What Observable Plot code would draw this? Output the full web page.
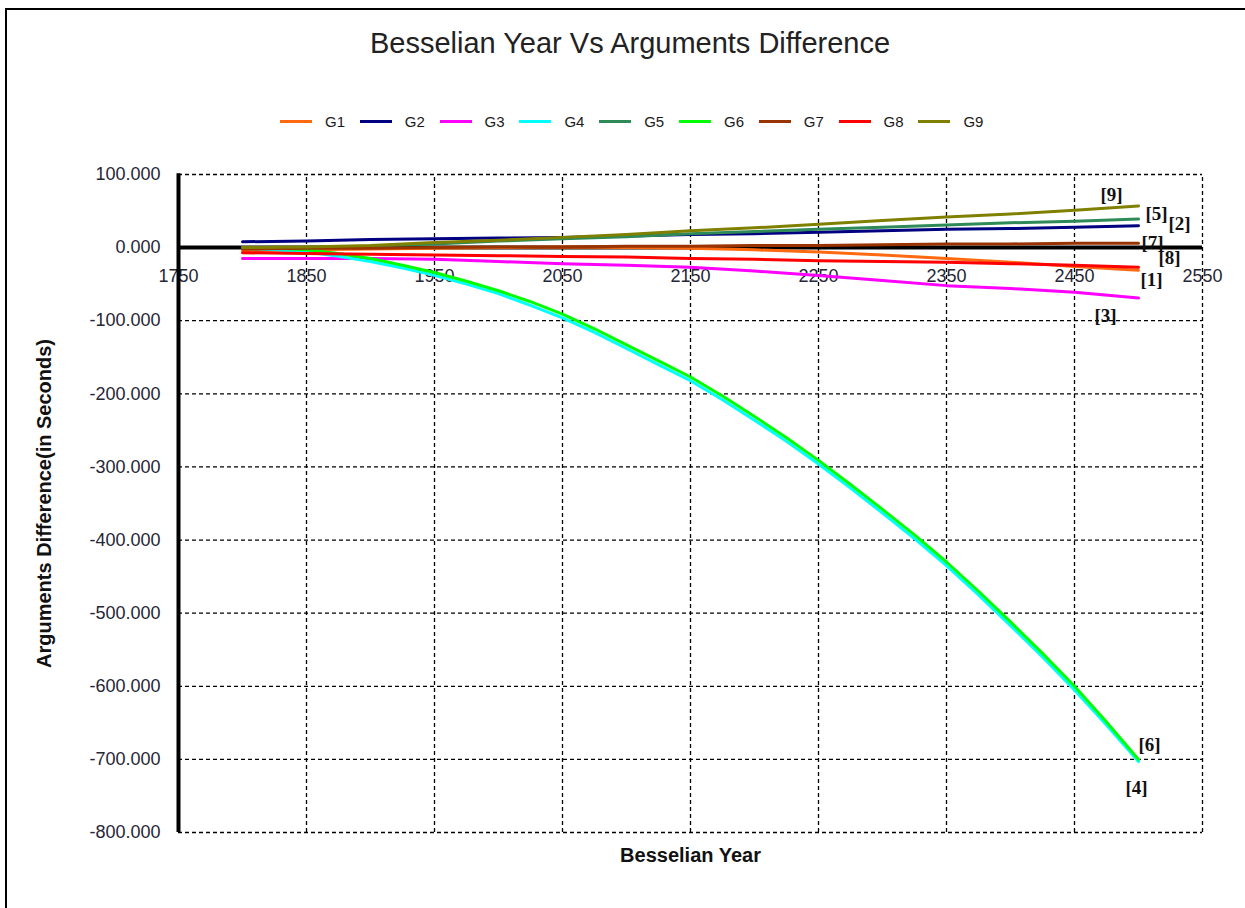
<!DOCTYPE html>
<html>
<head>
<meta charset="utf-8">
<script src="https://cdn.jsdelivr.net/npm/d3@7"></script>
<script src="https://cdn.jsdelivr.net/npm/@observablehq/plot@0.6"></script>
<style>
  html, body { margin: 0; padding: 0; background: #fff; }
  #page { position: relative; width: 1245px; height: 908px; overflow: hidden; font-family: "Liberation Sans", Arial, sans-serif; }
  #frame { position: absolute; left: 5px; top: 8px; width: 1260px; height: 920px; border-left: 2px solid #000; border-top: 2px solid #000; box-sizing: border-box; }
  #title { position: absolute; left: 130px; width: 1000px; top: 26px; text-align: center; font-size: 29px; color: #222; line-height: 34px; }
  #legend { position: absolute; top: 111px; left: 0; height: 20px; width: 1245px; }
  .item { position: absolute; top: 0; height: 20px; display: flex; align-items: center; font-size: 15px; color: #1a1a1a; }
  .swatch { display: inline-block; width: 32px; height: 3px; margin-right: 13px; }
  #chart { position: absolute; left: 0; top: 140px; }
</style>
</head>
<body>
<div id="page">
  <div id="frame"></div>
  <div id="title"></div>
  <div id="legend"></div>
  <div id="chart"></div>
</div>
<script>
// ---- data ----
const chartTitle = "Besselian Year Vs Arguments Difference";
const xTitle = "Besselian Year";
const yTitle = "Arguments Difference(in Seconds)";
const seriesNames = ["G1", "G2", "G3", "G4", "G5", "G6", "G7", "G8", "G9"];
const seriesColors = ["#ff6a10", "#000080", "#ff00ff", "#00ffff", "#2e8b57", "#00ff00", "#993300", "#ff0000", "#808000"];
const endLabels = ["[1]", "[2]", "[3]", "[4]", "[5]", "[6]", "[7]", "[8]", "[9]"];
const xTicks = [1750, 1850, 1950, 2050, 2150, 2250, 2350, 2450, 2550];
const yTicks = [100, 0, -100, -200, -300, -400, -500, -600, -700, -800];

const years50 = [1800, 1850, 1900, 1950, 2000, 2050, 2100, 2150, 2200, 2250, 2300, 2350, 2400, 2450, 2500];
const years25 = [1800, 1825, 1850, 1875, 1900, 1925, 1950, 1975, 2000, 2025, 2050, 2075, 2100, 2125, 2150, 2175, 2200, 2225, 2250, 2275, 2300, 2325, 2350, 2375, 2400, 2425, 2450, 2475, 2500];

const g1 = [-4, -3, -2, -1, 0, 1, 0, -1, -3, -6, -10, -15, -20, -26, -31];
const g2 = [8, 9, 11, 12, 13, 14, 16, 18, 19, 21, 23, 25, 26, 28, 30];
const g3 = [-15, -15, -15, -16, -19, -22, -24, -27, -32, -38, -45, -52, -56, -61, -69];
const g4 = [-1, -3, -6, -12, -19, -28, -38, -50, -63, -79, -96, -116, -138, -160, -182, -208, -236, -265, -296, -329, -363, -398, -435, -475, -517, -560, -605, -653, -703];
const g5 = [-1, 0, 2, 5, 9, 12, 15, 19, 22, 25, 28, 31, 34, 36, 39];
const g6 = [0, -1, -3, -8, -15, -24, -34, -46, -59, -74, -91, -111, -133, -155, -177, -203, -231, -260, -291, -324, -358, -393, -430, -470, -512, -555, -600, -649, -700];
const g7 = [-2, -1, -1, 0, 1, 1, 2, 2, 3, 3, 4, 5, 5, 6, 6];
const g8 = [-7, -8, -9, -10, -11, -12, -13, -15, -16, -18, -19, -20, -22, -24, -27];
const g9 = [0, 1, 3, 7, 10, 14, 18, 23, 27, 32, 37, 42, 46, 51, 57];

const seriesValues = [g1, g2, g3, g4, g5, g6, g7, g8, g9];
const seriesYears = [years50, years50, years50, years25, years50, years25, years50, years50, years50];

// ---- build table ----
const rows = [];
seriesNames.forEach((name, i) => {
  seriesValues[i].forEach((v, j) => rows.push({series: name, year: seriesYears[i][j], value: v}));
});
const ends = seriesNames.map((name, i) => ({
  series: name,
  label: endLabels[i],
  year: seriesYears[i][seriesYears[i].length - 1],
  value: seriesValues[i][seriesValues[i].length - 1]
}));
// label offsets in pixels relative to each series' last point
const labelOffset = {
  G1: [13, 10], G2: [41, -2], G3: [-33, 18], G4: [-2, 26], G5: [18, -5],
  G6: [11, -14], G7: [14, 0], G8: [31, -9], G9: [-27, -11]
};

// ---- title & legend ----
document.getElementById("title").textContent = chartTitle;
const legend = document.getElementById("legend");
seriesNames.forEach((name, i) => {
  const it = document.createElement("div");
  it.className = "item";
  it.style.left = (280 + i * 79.8) + "px";
  const sw = document.createElement("span");
  sw.className = "swatch";
  sw.style.background = seriesColors[i];
  it.appendChild(sw);
  it.appendChild(document.createTextNode(name));
  legend.appendChild(it);
});

// ---- chart ----
const dash = "4,3";
const gridX = xTicks.filter(d => d !== 1750);
const gridY = yTicks.filter(d => d !== 0);

const chart = Plot.plot({
  width: 1245,
  height: 740,
  marginLeft: 178,
  marginRight: 43,
  marginTop: 34,
  marginBottom: 48,
  style: {fontFamily: "'Liberation Sans', Arial, sans-serif", fontSize: "18px", color: "#262636", background: "transparent", overflow: "visible"},
  x: {domain: [1750, 2550]},
  y: {domain: [-800, 100]},
  color: {domain: seriesNames, range: seriesColors},
  marks: [
    Plot.ruleX(gridX, {x: d => d, y1: -800, y2: 100, stroke: "#000", strokeWidth: 1.3, strokeDasharray: dash}),
    Plot.ruleY(gridY, {y: d => d, x1: 1750, x2: 2550, stroke: "#000", strokeWidth: 1.3, strokeDasharray: dash}),
    Plot.text(xTicks, {x: d => d, y: 0, dy: 29, text: d => String(d), fontSize: 18, fill: "#262636"}),
    Plot.ruleY([0], {x1: 1750, x2: 2550, stroke: "#000", strokeWidth: 4}),
    Plot.ruleX([1750], {y1: -800, y2: 101, stroke: "#000", strokeWidth: 4}),
    Plot.axisY({ticks: yTicks, tickFormat: d => d.toFixed(3), tickSize: 0, tickPadding: 18, label: null, fontSize: 18}),
    Plot.axisX({ticks: [], label: null}),
    Plot.line(rows, {x: "year", y: "value", z: "series", stroke: "series", strokeWidth: 3, curve: "linear"}),
    Plot.text(ends, {
      x: "year", y: "value", text: "label",
      fontFamily: "'Liberation Serif', 'DejaVu Serif', serif", fontWeight: "bold", fontSize: 19, fill: "#111",
      render: (index, scales, values, dims, ctx, next) => {
        const g = next(index, scales, values, dims, ctx);
        d3.select(g).selectAll("text").each(function(_, k) {
          const d = ends[index[k]];
          const off = labelOffset[d.series];
          d3.select(this).attr("transform", `translate(${values.x[index[k]] + off[0]},${values.y[index[k]] + off[1]})`);
        });
        return g;
      }
    }),
    Plot.text([xTitle], {frameAnchor: "bottom", dy: 23, lineAnchor: "middle", text: d => d, fontWeight: "bold", fontSize: 20, fill: "#111"}),
    Plot.text([yTitle], {frameAnchor: "left", dx: -134, rotate: -90, textAnchor: "middle", text: d => d, fontWeight: "bold", fontSize: 20, fill: "#111"})
  ]
});
document.getElementById("chart").appendChild(chart);
</script>
</body>
</html>
